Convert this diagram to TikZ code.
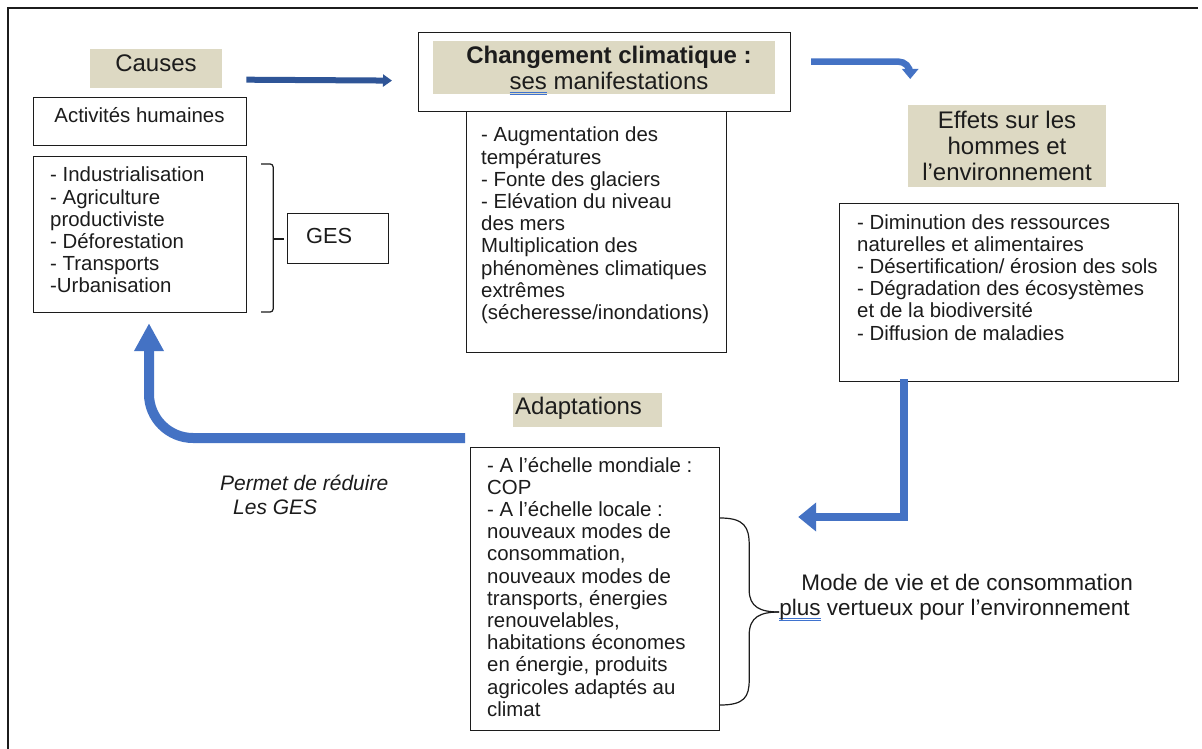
\documentclass[tikz,border=0pt]{standalone}
\usepackage{fontspec}
\setmainfont{Liberation Sans}
\usetikzlibrary{arrows.meta}
\definecolor{beige}{HTML}{DDD9C3}
\definecolor{arrblue}{HTML}{4472C4}
\definecolor{darkblue}{HTML}{2F5597}
\definecolor{ulblue}{HTML}{3F73CF}
\definecolor{ink}{HTML}{1C1C1C}
\newcommand{\blk}[2][420pt]{\parbox[t]{#1}{\raggedright #2}}
\newcommand{\blkc}[2][420pt]{\parbox[t]{#1}{\centering #2}}
\newcommand{\ulb}[1]{\leavevmode\setbox0\hbox{#1}\rlap{\textcolor{ulblue}{\rule[-3.5pt]{\wd0}{1pt}}}\rlap{\textcolor{ulblue}{\rule[-6pt]{\wd0}{1pt}}}\box0\relax}
\begin{document}
\begin{tikzpicture}[x=1pt,y=-1pt,
  framebox/.style={draw=ink,line width=1.2pt,anchor=north west,inner sep=0},
  tanbox/.style={fill=beige,draw=none,anchor=north west,inner sep=0},
  body/.style={inner sep=0,anchor=base west,text=ink,font=\fontsize{20.4}{22.2}\selectfont},
  head/.style={inner sep=0,anchor=base,text=ink,font=\fontsize{24}{26}\selectfont},
  inkline/.style={draw=ink,line width=1.2pt},
]
\useasboundingbox (0,0) rectangle (1202,749);
\fill[white] (0,0) rectangle (1202,749);
% outer frame
\draw[ink,line width=2pt] (8,752) -- (8,8) -- (1198,8);

% ---- Causes
\node[tanbox,minimum width=132pt,minimum height=39pt] (causes) at (90,49) {};
\node[head] (causesT) at ([shift={(66,22.5)}]causes.north west) {Causes};
\node[framebox,minimum width=213pt,minimum height=48pt] (actbox) at (33,97) {};
\node[body,anchor=base] (actT) at ([shift={(106.5,26)}]actbox.north west) {Activités humaines};
\node[framebox,minimum width=213pt,minimum height=156pt] (indbox) at (33,156) {};
\node[body] (indT) at ([shift={(17,26)}]indbox.north west) {\blk{- Industrialisation\\- Agriculture\\productiviste\\- Déforestation\\- Transports\\-Urbanisation}};
\node[framebox,minimum width=101pt,minimum height=50pt] (ges) at (287,213) {};
\node[body,font=\fontsize{21.8}{24}\selectfont] (gesT) at ([shift={(19,30)}]ges.north west) {GES};
\begin{scope}[shift={(indbox.north east)}]
  \draw[inkline,rounded corners=3pt] (14,8) -- (26,8) -- (26,156) -- (14,156);
  \draw[inkline] (26,83) -- (37,83);
\end{scope}

% ---- Changement climatique
\node[framebox,minimum width=372pt,minimum height=79pt] (chbox) at (418,32) {};
\node[tanbox,minimum width=342pt,minimum height=53pt] (chtan) at (433,41) {};
\node[head] (chT) at ([shift={(191,31.5)}]chbox.north west) {\blkc[360pt]{\textbf{Changement climatique :}\\\ulb{ses} manifestations}};
\node[framebox,minimum width=260pt,minimum height=241pt] (manbox) at (466,111) {};
\node[body] (manT) at ([shift={(15,31)}]manbox.north west) {\blk{- Augmentation des\\températures\\- Fonte des glaciers\\- Elévation du niveau\\des mers\\Multiplication des\\phénomènes climatiques\\extrêmes\\(sécheresse/inondations)}};

% ---- Effets
\node[tanbox,minimum width=198pt,minimum height=82pt] (effets) at (908,105) {};
\node[head] (effT) at ([shift={(99,23.5)}]effets.north west) {\blkc[260pt]{Effets sur les\\hommes et\\l’environnement}};
\node[framebox,minimum width=339pt,minimum height=178pt] (effbox) at (839,203) {};
\node[body] (effL) at ([shift={(18,26)}]effbox.north west) {\blk{- Diminution des ressources\\naturelles et alimentaires\\- Désertification/ érosion des sols\\- Dégradation des écosystèmes\\et de la biodiversité\\- Diffusion de maladies}};

% ---- Adaptations
\node[tanbox,minimum width=149pt,minimum height=34pt] (adapt) at (513,393) {};
\node[head,anchor=base west] (adaptT) at ([shift={(2,21)}]adapt.north west) {Adaptations};
\node[framebox,minimum width=249pt,minimum height=283pt] (adaptbox) at (470,447) {};
\node[body] (adaptL) at ([shift={(17,25)}]adaptbox.north west) {\blk{- A l’échelle mondiale :\\COP\\- A l’échelle locale :\\nouveaux modes de\\consommation,\\nouveaux modes de\\transports, énergies\\renouvelables,\\habitations économes\\en énergie, produits\\agricoles adaptés au\\climat}};
\begin{scope}[shift={(adaptbox.north east)}]
  \draw[inkline] (0,71) .. controls (24,71) and (29,80) .. (29,98) -- (29,143)
     .. controls (29,160) and (40,165) .. (59,165);
  \draw[inkline] (59,165) .. controls (40,165) and (29,170) .. (29,188) -- (29,233)
     .. controls (29,250) and (24,258) .. (0,258);
\end{scope}
\node[body,font=\fontsize{22.5}{25}\selectfont] (mode) at ([shift={(59,143)}]adaptbox.north east) {\blk{\hspace*{22pt}Mode de vie et de consommation\\\ulb{plus} vertueux pour l’environnement}};
\node[body,font=\fontsize{21}{24}\selectfont\itshape] (permet) at ([shift={(-250,43)}]adaptbox.north west) {\blk{Permet de réduire\\\hspace*{13pt}Les GES}};

% ---- arrows
\coordinate (a1s) at ([shift={(24,11)}]causes.east);
\coordinate (a1e) at ([shift={(-26,8.5)}]chbox.west);
\draw[draw=darkblue,line width=6pt,-{Triangle[width=12pt,length=9pt]}] (a1s) -- (a1e);

\coordinate (a2s) at ([shift={(20,-10.5)}]chbox.east);
\coordinate (a2e) at ([shift={(-97,-26)}]effets.north);
\draw[draw=arrblue,line width=6.5pt,rounded corners=12pt,-{Triangle[width=16pt,length=10pt]}] (a2s) -| (a2e);

\coordinate (a3s) at ([shift={(65,-3)}]effbox.south west);
\coordinate (a3e) at ([shift={(78,70)}]adaptbox.north east);
\draw[draw=arrblue,line width=8.5pt,line join=miter,-{Triangle[width=28pt,length=18pt]}] (a3s) |- (a3e);

\coordinate (a4s) at ([shift={(-5,-9)}]adaptbox.north west);
\coordinate (a4e) at ([shift={(116,10)}]indbox.south west);
\draw[draw=arrblue,line width=10pt,rounded corners=44pt,-{Triangle[width=28pt,length=28pt]}] (a4s) -| (a4e);
\end{tikzpicture}
\end{document}
